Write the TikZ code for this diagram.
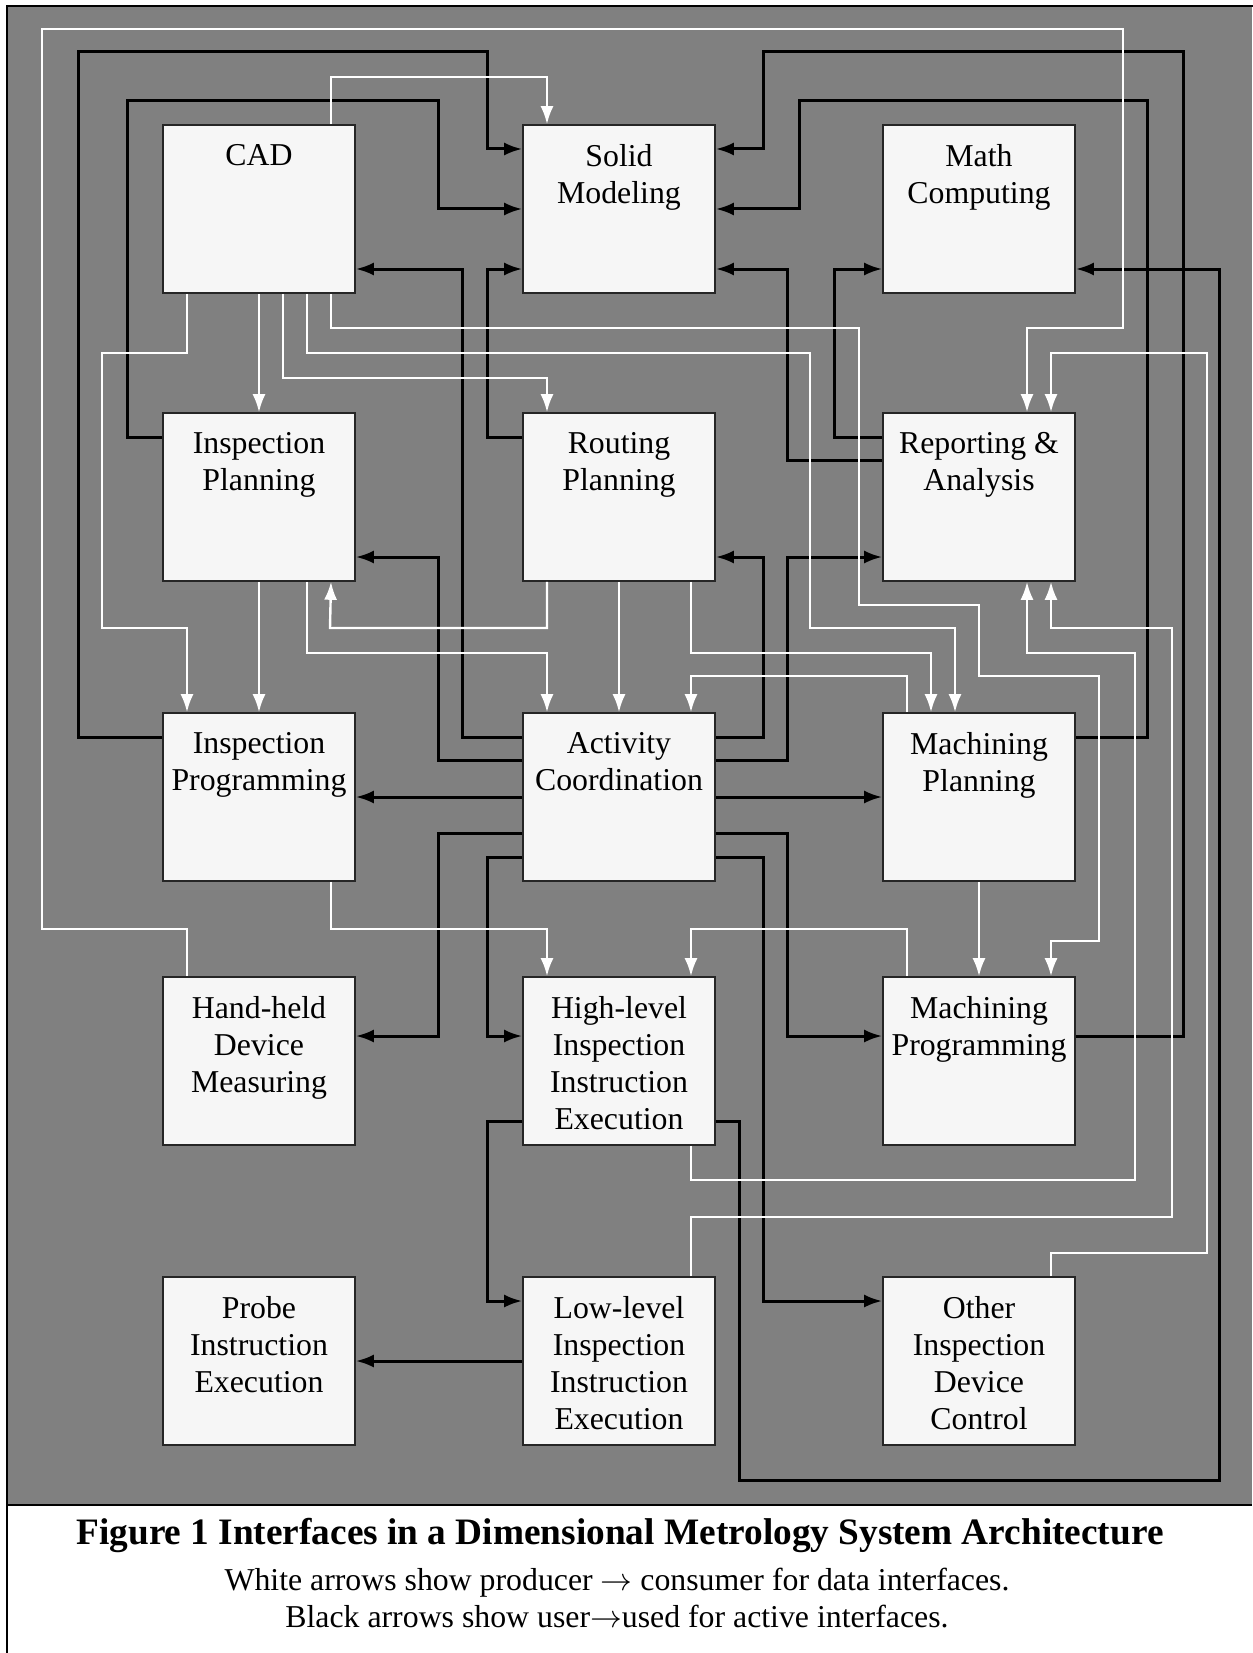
\RequirePackage{fix-cm}
\documentclass[tikz,border=0pt]{standalone}
\usepackage{fontspec}
\setmainfont{Liberation Serif}
\usetikzlibrary{arrows.meta}
\definecolor{panel}{gray}{0.5}
\definecolor{boxfill}{gray}{0.965}
\newcommand{\boxfont}{\fontsize{31.8}{37}\selectfont}

\begin{document}
\begin{tikzpicture}[x=1pt,y=-1pt,
    box/.style={draw=black!85, line width=1.6pt, fill=boxfill,
      minimum width=192pt, minimum height=168pt, label={[boxtext]north:#1}},
    boxtext/.style={anchor=north, align=center, font=\boxfont, yshift=-17pt},
    blk/.style={line width=3pt, -{Latex[length=18pt,width=13pt]}},
    wht/.style={white, line width=2.4pt, -{Latex[length=18pt,width=13pt]}}]
  \useasboundingbox (0,0) rectangle (1252,1653);
  \fill[panel] (8,7) rectangle (1252,1505);
  \draw[line width=2.4pt] (7,1660) -- (7,6) -- (1260,6);
  \draw[line width=1.2pt] (8,1505) -- (1252,1505);

  \node[box={CAD}] (cad) at (259,209) {};
  \node[box={Solid\\Modeling}] (solid) at (619,209) {};
  \node[box={Math\\Computing}] (math) at (979,209) {};
  \node[box={Inspection\\Planning}] (iplan) at (259,497) {};
  \node[box={Routing\\Planning}] (route) at (619,497) {};
  \node[box={Reporting \&\\Analysis}] (report) at (979,497) {};
  \node[box={Inspection\\Programming}] (iprog) at (259,797) {};
  \node[box={Activity\\Coordination}] (activ) at (619,797) {};
  \node[box={Machining\\Planning}] (mplan) at (979,797) {};
  \node[box={Hand-held\\Device\\Measuring}] (hand) at (259,1061) {};
  \node[box={High-level\\Inspection\\Instruction\\Execution}] (high) at (619,1061) {};
  \node[box={Machining\\Programming}] (mprog) at (979,1061) {};
  \node[box={Probe\\Instruction\\Execution}] (probe) at (259,1361) {};
  \node[box={Low-level\\Inspection\\Instruction\\Execution}] (low) at (619,1361) {};
  \node[box={Other\\Inspection\\Device\\Control}] (other) at (979,1361) {};

  % active interfaces: user -> used
  \draw[blk] ([yshift=60]iprog.west) -| (78,52) -- (487,52) |- ([yshift=60]solid.west);
  \draw[blk] ([yshift=60]iplan.west) -| (127,101) -- (438,101) |- (solid.west);
  \draw[blk] ([yshift=60]activ.west) -| (462,269) -- ([yshift=-60]cad.east);
  \draw[blk] ([yshift=60]route.west) -| (487,269) -- ([yshift=-60]solid.west);
  \draw[blk] ([yshift=25]mprog.east) -| (1183,52) -- (763,52) |- ([yshift=60]solid.east);
  \draw[blk] ([yshift=60]mplan.east) -| (1147,101) -- (799,101) |- (solid.east);
  \draw[blk] ([yshift=37]report.west) -| (787,269) -- ([yshift=-60]solid.east);
  \draw[blk] ([yshift=60]report.west) -| (834,269) -- ([yshift=-60]math.west);
  \draw[blk] ([yshift=-60]high.east) -| (739,1480) -| (1219,269) -- ([yshift=-60]math.east);
  \draw[blk] ([yshift=37]activ.west) -| (438,557) -- ([yshift=-60]iplan.east);
  \draw[blk] ([yshift=60]activ.east) -| (763,557) -- ([yshift=-60]route.east);
  \draw[blk] ([yshift=37]activ.east) -| (787,557) -- ([yshift=-60]report.west);
  \draw[blk] (activ.west) -- (iprog.east);
  \draw[blk] (activ.east) -- (mplan.west);
  \draw[blk] ([yshift=-36]activ.west) -| (438,1036) -- ([yshift=25]hand.east);
  \draw[blk] ([yshift=-60]activ.west) -| (487,1036) -- ([yshift=25]high.west);
  \draw[blk] ([yshift=-36]activ.east) -| (787,1036) -- ([yshift=25]mprog.west);
  \draw[blk] ([yshift=-60]activ.east) -| (763,1301) -- ([yshift=60]other.west);
  \draw[blk] ([yshift=-60]high.west) -| (487,1301) -- ([yshift=60]low.west);
  \draw[blk] (low.west) -- (probe.east);

  % data interfaces: producer -> consumer
  \draw[wht] ([xshift=-72]hand.north) |- (42,929) |- (1123,29) |- (1027,328) -- ([xshift=48]report.north);
  \draw[wht] ([xshift=72]cad.north) |- (547,77) -- ([xshift=-72]solid.north);
  \draw[wht] ([xshift=-72]cad.south) |- (102,353) |- (187,628) -- ([xshift=-72]iprog.north);
  \draw[wht] (cad.south) -- (iplan.north);
  \draw[wht] ([xshift=24]cad.south) |- (547,378) -- ([xshift=-72]route.north);
  \draw[wht] ([xshift=48]cad.south) |- (810,353) |- (955,628) -- ([xshift=-24]mplan.north);
  \draw[wht] ([xshift=72]cad.south) |- (859,328) |- (979,605) |- (1099,676) |- (1051,941) -- ([xshift=72]mprog.north);
  \draw[wht] ([xshift=-72]route.south) |- (330,628) -- ([xshift=72]iplan.south);
  \draw[wht] (route.south) -- (activ.north);
  \draw[wht] ([xshift=72]route.south) |- (931,653) -- ([xshift=-48]mplan.north);
  \draw[wht] (iplan.south) -- (iprog.north);
  \draw[wht] ([xshift=48]iplan.south) |- (547,653) -- ([xshift=-72]activ.north);
  \draw[wht] ([xshift=-72]mplan.north) |- (691,676) -- ([xshift=72]activ.north);
  \draw[wht] (mplan.south) -- (mprog.north);
  \draw[wht] ([xshift=72]iprog.south) |- (547,929) -- ([xshift=-72]high.north);
  \draw[wht] ([xshift=-72]mprog.north) |- (691,929) -- ([xshift=72]high.north);
  \draw[wht] ([xshift=72]high.south) |- (1135,1180) |- (1027,653) -- ([xshift=48]report.south);
  \draw[wht] ([xshift=72]low.north) |- (1172,1217) |- (1051,628) -- ([xshift=72]report.south);
  \draw[wht] ([xshift=72]other.north) |- (1207,1253) |- (1051,353) -- ([xshift=72]report.north);

  \node[font=\fontsize{37.3}{44}\selectfont\bfseries] (cap) at (620,1535)
    {Figure 1 Interfaces in a Dimensional Metrology System Architecture};
  \node[font=\fontsize{31.8}{37}\selectfont, align=center] (note) at (617,1598)
    {White arrows show producer $\rightarrow$ consumer for data interfaces.\\
     Black arrows show user$\rightarrow$used for active interfaces.};
\end{tikzpicture}
\end{document}
